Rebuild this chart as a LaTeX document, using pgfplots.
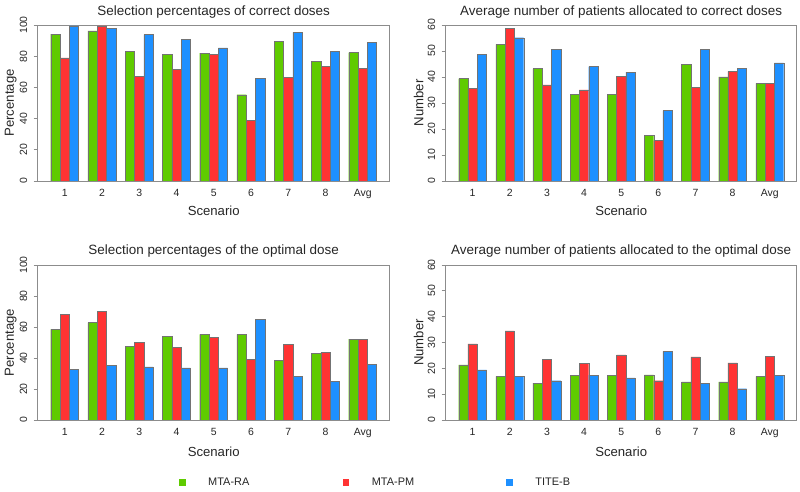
\documentclass[border=0pt]{standalone}
\usepackage{fontspec}
\setmainfont{Liberation Sans}
\usepackage{pgfplots}
\usepackage{pgfplotstable}
\pgfplotsset{compat=1.18}
\definecolor{cgreen}{HTML}{5FCB00}
\definecolor{cred}{HTML}{FF3333}
\definecolor{cblue}{HTML}{1E90FF}

\pgfplotstableread{
x g r b
0 94.2 78.9 99.4
1 96.3 99.4 97.8
2 83.2 67.3 93.8
3 81.1 71.4 91.0
4 81.9 81.1 85.4
5 55.3 38.9 66.0
6 89.7 66.5 95.3
7 76.6 73.5 83.2
8 82.3 72.1 89.0
}\tldata
\pgfplotstableread{
x g r b
0 39.4 35.7 48.6
1 52.5 58.7 55.1
2 43.2 37.0 50.5
3 33.2 35.0 44.0
4 33.2 40.3 41.9
5 17.5 15.5 27.1
6 44.8 36.0 50.6
7 40.0 42.2 43.4
8 37.5 37.5 45.4
}\trdata
\pgfplotstableread{
x g r b
0 58.5 68.3 32.6
1 62.9 70.0 35.4
2 47.7 49.9 34.3
3 53.8 46.9 33.7
4 55.3 53.1 33.7
5 55.3 39.1 65.0
6 38.7 48.6 28.3
7 43.2 43.6 24.8
8 52.1 52.1 35.9
}\bldata
\pgfplotstableread{
x g r b
0 21.3 29.5 19.4
1 16.9 34.5 16.9
2 14.3 23.4 15.2
3 17.4 21.8 17.4
4 17.4 25.2 16.3
5 17.5 15.2 26.6
6 14.8 24.4 14.3
7 14.8 22.1 12.1
8 16.9 24.6 17.4
}\brdata

\pgfplotsset{
  rpanel/.style={
    scale only axis, anchor=south west,
    ybar, bar width=0.25, enlargelimits=false,
    xmin=-0.725, xmax=8.725, ymin=0,
    xtick={0,...,8}, xticklabels={1,2,3,4,5,6,7,8,Avg},
    major x tick style={draw=none},
    ytick pos=left, tick align=outside, major tick length=4bp,
    axis line style={draw=black!45, line width=0.8bp},
    major y tick style={draw=black!45, line width=0.8bp},
    /pgf/number format/assume math mode=true,
    tick label style={font=\fontsize{10.5}{12}\selectfont, text=black!85},
    xticklabel style={anchor=base, yshift=-11.8bp},
    yticklabel style={xshift=-6.6bp, rotate=90, anchor=base},
    label style={font=\fontsize{13.2}{15}\selectfont, text=black!85},
    every axis title shift=0pt,
    title style={font=\fontsize{13.5}{16}\selectfont, text=black!85, anchor=center, yshift=0pt},
    xlabel={Scenario},
    ylabel style={at={(axis description cs:-0.077,0.5)}, anchor=center, rotate=0},
  },
  gbar/.style={fill=cgreen, draw=black!55, line width=0.4bp, bar shift=-0.25},
  rbar/.style={fill=cred, draw=black!55, line width=0.4bp, bar shift=0},
  bbar/.style={fill=cblue, draw=black!55, line width=0.4bp, bar shift=0.25},
}

\begin{document}
\begin{tikzpicture}
\useasboundingbox (0,0) rectangle (800bp,492bp);

% top-left
\begin{axis}[rpanel, at={(37.7bp,311bp)}, width=352bp, height=156bp,
  ymax=100, ytick={0,20,...,100},
  title={Selection percentages of correct doses},
  title style={at={(axis description cs:0.5,1.083)}},
  xlabel style={at={(axis description cs:0.5,-0.192)}, anchor=center},
  ylabel={Percentage}]
\addplot[gbar] table[x=x,y=g]{\tldata};
\addplot[rbar] table[x=x,y=r]{\tldata};
\addplot[bbar] table[x=x,y=b]{\tldata};
\end{axis}

% top-right
\begin{axis}[rpanel, at={(445.7bp,311bp)}, width=351bp, height=156bp,
  ymax=60, ytick={0,10,...,60},
  title={Average number of patients allocated to correct doses},
  title style={at={(axis description cs:0.5,1.083)}},
  xlabel style={at={(axis description cs:0.5,-0.192)}, anchor=center},
  ylabel={Number}]
\addplot[gbar] table[x=x,y=g]{\trdata};
\addplot[rbar] table[x=x,y=r]{\trdata};
\addplot[bbar] table[x=x,y=b]{\trdata};
\end{axis}

% bottom-left
\begin{axis}[rpanel, at={(37.7bp,72bp)}, width=352bp, height=155bp,
  ymax=100, ytick={0,20,...,100},
  title={Selection percentages of the optimal dose},
  title style={at={(axis description cs:0.5,1.09)}},
  xlabel style={at={(axis description cs:0.5,-0.205)}, anchor=center},
  ylabel={Percentage}]
\addplot[gbar] table[x=x,y=g]{\bldata};
\addplot[rbar] table[x=x,y=r]{\bldata};
\addplot[bbar] table[x=x,y=b]{\bldata};
\end{axis}

% bottom-right
\begin{axis}[rpanel, at={(445.7bp,72bp)}, width=351bp, height=155bp,
  ymax=60, ytick={0,10,...,60},
  title={Average number of patients allocated to the optimal dose},
  title style={at={(axis description cs:0.5,1.09)}},
  xlabel style={at={(axis description cs:0.5,-0.205)}, anchor=center},
  ylabel={Number}]
\addplot[gbar] table[x=x,y=g]{\brdata};
\addplot[rbar] table[x=x,y=r]{\brdata};
\addplot[bbar] table[x=x,y=b]{\brdata};
\end{axis}

% legend
\begin{axis}[hide axis, scale only axis, anchor=south west, at={(0,0)},
  width=800bp, height=492bp, xmin=0, xmax=800, ymin=0, ymax=492,
  legend columns=3, legend cell align=left,
  legend style={at={(axis cs:179,10)}, anchor=west, draw=none, fill=none,
    inner sep=0pt, font=\fontsize{11}{13}\selectfont, text=black!85,
    /tikz/every odd column/.style={column sep=23bp},
    /tikz/every even column/.style={column sep=0bp},
    nodes={inner sep=0pt}}]
\addlegendimage{legend image code/.code={\fill[cgreen] (0bp,-2.8bp) rectangle (5.6bp,2.8bp);}}
\addlegendentry{\makebox[134.6bp][l]{MTA-RA}}
\addlegendimage{legend image code/.code={\fill[cred] (0bp,-2.8bp) rectangle (5.6bp,2.8bp);}}
\addlegendentry{\makebox[134.6bp][l]{MTA-PM}}
\addlegendimage{legend image code/.code={\fill[cblue] (0bp,-2.8bp) rectangle (5.6bp,2.8bp);}}
\addlegendentry{\makebox[134.6bp][l]{TITE-B}}
\end{axis}
\end{tikzpicture}
\end{document}
